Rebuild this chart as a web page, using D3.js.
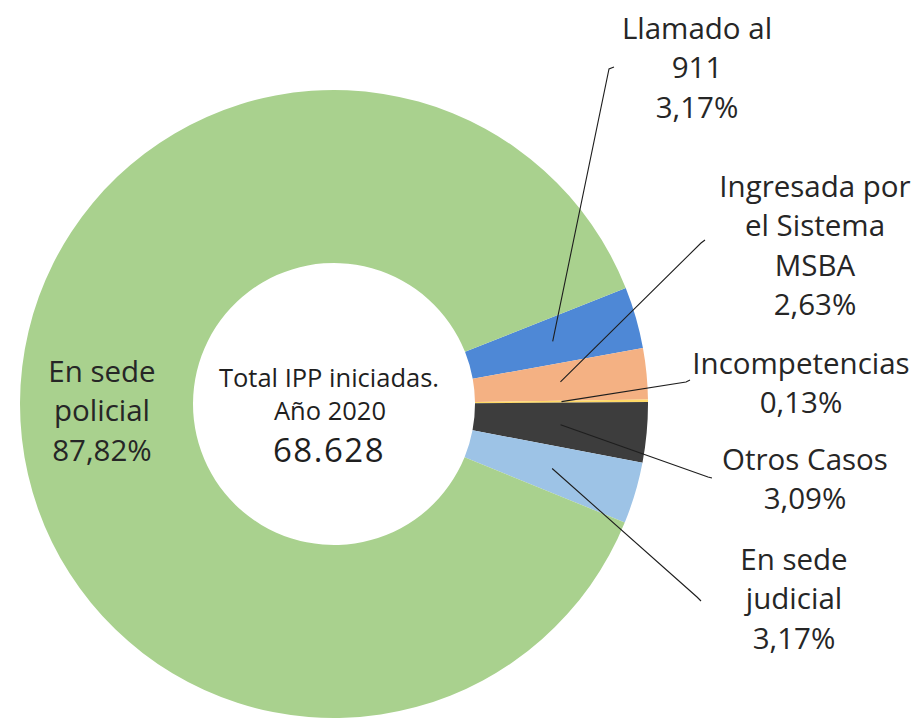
<!DOCTYPE html>
<html>
<head>
<meta charset="utf-8">
<script src="https://cdn.jsdelivr.net/npm/d3@7"></script>
<style>
  html, body { margin: 0; padding: 0; background: #ffffff; }
  svg { display: block; font-family: "Open Sans", "Noto Sans", sans-serif; }
</style>
</head>
<body>
<svg id="chart" width="919" height="719"></svg>
<script>
// ---- data ----
const categories = ["Llamado al 911", "Ingresada por el Sistema MSBA", "Incompetencias", "Otros Casos", "En sede judicial", "En sede policial"];
const values = [3.17, 2.63, 0.13, 3.09, 3.17, 87.82];
const valueLabels = ["3,17%", "2,63%", "0,13%", "3,09%", "3,17%", "87,82%"];
const nameLines = [["Llamado al", "911"], ["Ingresada por", "el Sistema", "MSBA"], ["Incompetencias"], ["Otros Casos"], ["En sede", "judicial"], ["En sede", "policial"]];
const colors = ["#4e88d6", "#f4b183", "#ffd966", "#3d3d3d", "#9dc3e6", "#a9d18e"];
const centerLines = ["Total IPP iniciadas.", "Año 2020"];
const totalLabel = "68.628";

// ---- layout (positions, not data) ----
const cx = 334, cy = 404, outerR = 314, innerR = 141;
const startDeg = 68.3;
const lineH = 39.3;
const labelLayout = [
  { x: 697, y: 39,  elbow: [609, 69],  hook: [614, 67] },
  { x: 815, y: 197, elbow: [701, 243], hook: [705, 240] },
  { x: 801, y: 374, elbow: [686, 382], hook: [690, 380] },
  { x: 805, y: 470, elbow: [708, 477], hook: [712, 478] },
  { x: 794, y: 570, elbow: [697, 597], hook: [701, 601] },
  { x: 102, y: 382, elbow: null, hook: null }
];

const svg = d3.select("#chart");
const g = svg.append("g").attr("transform", `translate(${cx},${cy})`);

const pie = d3.pie().sort(null).value(d => d)
  .startAngle(startDeg * Math.PI / 180)
  .endAngle(startDeg * Math.PI / 180 + 2 * Math.PI);
const arcs = pie(values);
const arc = d3.arc().innerRadius(innerR).outerRadius(outerR);
const color = d3.scaleOrdinal().domain(d3.range(values.length)).range(colors);

g.selectAll("path.slice").data(arcs).join("path")
  .attr("class", "slice")
  .attr("d", arc)
  .attr("fill", (d, i) => color(i));

// leader lines
const leaders = arcs.map((d, i) => ({ d, i, L: labelLayout[i] })).filter(o => o.L.elbow);
g.selectAll("path.leader").data(leaders).join("path")
  .attr("class", "leader")
  .attr("fill", "none")
  .attr("stroke", "#1e1e1e")
  .attr("stroke-width", 1.1)
  .attr("d", o => {
    const c = arc.centroid(o.d);
    const p = d3.path();
    p.moveTo(c[0], c[1]);
    p.lineTo(o.L.elbow[0] - cx, o.L.elbow[1] - cy);
    p.lineTo(o.L.hook[0] - cx, o.L.hook[1] - cy);
    return p.toString();
  });

// labels
const labels = svg.append("g").attr("fill", "#262626").attr("font-size", 29.5)
  .attr("text-anchor", "middle");
categories.forEach((c, i) => {
  const L = labelLayout[i];
  const lines = nameLines[i].concat([valueLabels[i]]);
  const t = labels.append("text").attr("x", L.x).attr("y", L.y);
  lines.forEach((ln, k) => {
    t.append("tspan").attr("x", L.x).attr("y", L.y + k * lineH).text(ln);
  });
});

// center text
const center = svg.append("g").attr("text-anchor", "middle").attr("fill", "#1f1f1f");
center.append("text").attr("x", 329).attr("y", 387).attr("font-size", 25.5).text(centerLines[0]);
center.append("text").attr("x", 330).attr("y", 420).attr("font-size", 25.5).text(centerLines[1]);
center.append("text").attr("x", 329).attr("y", 462).attr("font-size", 33).attr("font-weight", 500)
  .attr("letter-spacing", 1.5).text(totalLabel);
</script>
</body>
</html>
